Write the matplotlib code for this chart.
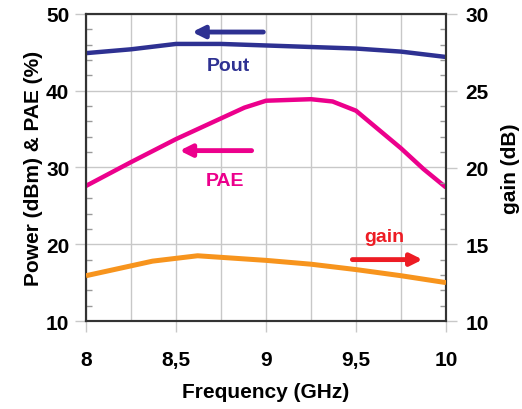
import matplotlib
matplotlib.use("Agg")
import matplotlib.pyplot as plt
from matplotlib.ticker import MultipleLocator

plt.rcParams['font.family'] = ['Liberation Sans', 'DejaVu Sans']
plt.rcParams['font.weight'] = 'bold'

# Data
pout_freq = [8.0, 8.25, 8.5, 8.75, 9.0, 9.25, 9.5, 9.75, 10.0]
pout_dbm = [44.9, 45.4, 46.1, 46.1, 45.9, 45.7, 45.5, 45.1, 44.4]

pae_freq = [8.0, 8.25, 8.5, 8.75, 8.88, 9.0, 9.25, 9.37, 9.5, 9.75, 9.875, 10.0]
pae_pct = [27.6, 30.7, 33.7, 36.4, 37.8, 38.7, 38.9, 38.6, 37.4, 32.5, 29.8, 27.4]

gain_freq = [8.0, 8.37, 8.62, 9.0, 9.25, 9.5, 9.75, 10.0]
gain_db = [12.95, 13.9, 14.25, 13.95, 13.7, 13.35, 12.95, 12.5]

x_ticks = [8, 8.5, 9, 9.5, 10]
x_ticklabels = ['8', '8,5', '9', '9,5', '10']
left_ticks = [10, 20, 30, 40, 50]
right_ticks = [10, 15, 20, 25, 30]

c_pout = '#2e3192'
c_pae = '#ec008c'
c_gain = '#f7941d'
c_arrow_gain = '#ed1c24'
grid_c = '#c8c8c8'

fig = plt.figure(figsize=(5.22, 4.10), dpi=100)
ax = fig.add_axes([86/522, 1-322/410, 360/522, 307/410])
ax2 = ax.twinx()

ax.set_xlim(8, 10)
ax.set_ylim(10, 50)
ax2.set_ylim(10, 30)

# grid
ax.xaxis.set_minor_locator(MultipleLocator(0.25))
ax.set_xticks(x_ticks)
ax.set_xticklabels(x_ticklabels)
ax.grid(True, which='both', axis='x', color=grid_c, lw=1.0, zorder=0)
ax.set_yticks(left_ticks)
ax.yaxis.set_minor_locator(MultipleLocator(2))
ax.grid(True, which='major', axis='y', color=grid_c, lw=1.0, zorder=0)
ax2.set_yticks(right_ticks)
ax2.yaxis.set_minor_locator(MultipleLocator(1))

ax.plot(pout_freq, pout_dbm, color=c_pout, lw=3.2, zorder=3, solid_capstyle='butt')
ax.plot(pae_freq, pae_pct, color=c_pae, lw=3.2, zorder=3, solid_capstyle='butt')
ax2.plot(gain_freq, gain_db, color=c_gain, lw=3.6, zorder=3, solid_capstyle='butt')

for a in (ax, ax2):
    for s in a.spines.values():
        s.set_color('#333333')
        s.set_linewidth(1.5)

ax.tick_params(axis='both', which='major', direction='out', length=8, width=1,
               color=grid_c, labelsize=15, pad=4)
ax.tick_params(axis='y', which='minor', direction='in', length=4, width=1, color='#999999')
ax.tick_params(axis='x', which='minor', length=0)
ax.tick_params(axis='x', which='major', pad=13)
ax2.tick_params(axis='y', which='major', direction='out', length=8, width=1,
                color=grid_c, labelsize=15, pad=6)
ax2.tick_params(axis='y', which='minor', direction='in', length=4, width=1, color='#999999')

ax.set_xlabel('Frequency (GHz)', fontsize=15, fontweight='bold', labelpad=9)
ax.set_ylabel('Power (dBm) & PAE (%)', fontsize=15, fontweight='bold', labelpad=2)
ax2.set_ylabel('gain (dB)', fontsize=15, fontweight='bold', labelpad=9)

# annotations
def arrow(x0, x1, y, color):
    ax.annotate('', xy=(x1, y), xytext=(x0, y),
                arrowprops=dict(arrowstyle='-|>,head_length=0.7,head_width=0.35',
                                color=color, lw=3.5, shrinkA=0, shrinkB=0),
                zorder=4)

arrow(8.985, 8.59, 47.65, c_pout)
ax.text(8.79, 43.3, 'Pout', color=c_pout, fontsize=14, fontweight='bold', ha='center', va='center')
arrow(8.92, 8.52, 32.2, c_pae)
ax.text(8.77, 28.3, 'PAE', color=c_pae, fontsize=14, fontweight='bold', ha='center', va='center')
arrow(9.48, 9.87, 18.0, c_arrow_gain)
ax.text(9.66, 21.0, 'gain', color=c_arrow_gain, fontsize=14, fontweight='bold', ha='center', va='center')

fig.savefig('out.png', dpi=100)
